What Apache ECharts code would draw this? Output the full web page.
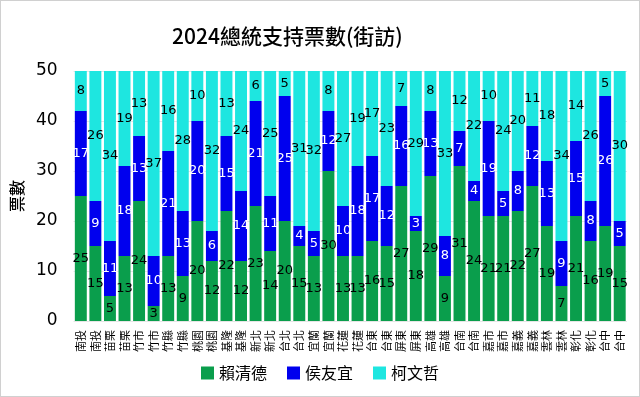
<!DOCTYPE html>
<html>
<head>
<meta charset="utf-8">
<script src="https://cdn.jsdelivr.net/npm/echarts@6/dist/echarts.min.js"></script>
<style>
  html, body { margin: 0; padding: 0; background: #fff; }
  #main { width: 638px; height: 395px; border: 1px solid #d0d0d0; }
</style>
</head>
<body>
<div id="main"></div>
<script>
// 各地區(兩次街訪)
var categories = ['南投', '南投', '苗栗', '苗栗', '竹市', '竹市', '竹縣', '竹縣', '桃園', '桃園',
  '基隆', '基隆', '新北', '新北', '台北', '台北', '宜蘭', '宜蘭', '花蓮', '花蓮',
  '台東', '台東', '屏東', '屏東', '高雄', '高雄', '台南', '台南', '嘉市', '嘉市',
  '嘉義', '嘉義', '雲林', '雲林', '彰化', '彰化', '台中', '台中'];
var lai = [25, 15, 5, 13, 24, 3, 13, 9, 20, 12, 22, 12, 23, 14, 20, 15, 13, 30, 13, 13,
  16, 15, 27, 18, 29, 9, 31, 24, 21, 21, 22, 27, 19, 7, 21, 16, 19, 15];
var hou = [17, 9, 11, 18, 13, 10, 21, 13, 20, 6, 15, 14, 21, 11, 25, 4, 5, 12, 10, 18,
  17, 12, 16, 3, 13, 8, 7, 4, 19, 5, 8, 12, 13, 9, 15, 8, 26, 5];
var ko = [8, 26, 34, 19, 13, 37, 16, 28, 10, 32, 13, 24, 6, 25, 5, 31, 32, 8, 27, 19,
  17, 23, 7, 29, 8, 33, 12, 22, 10, 24, 20, 11, 18, 34, 14, 26, 5, 30];

var chart = echarts.init(document.getElementById('main'));

function seg(name, data, color, textColor) {
  return {
    name: name,
    type: 'bar',
    stack: 'total',
    data: data,
    barCategoryGap: '18%',
    itemStyle: { color: color },
    label: {
      show: true,
      position: 'inside',
      color: textColor,
      fontSize: 13,
      fontFamily: 'DejaVu Sans'
    }
  };
}

var option = {
  textStyle: { fontFamily: 'Noto Sans CJK TC' },
  title: {
    text: '2024總統支持票數(街訪)',
    left: 166,
    top: 20,
    textStyle: { fontSize: 21, fontWeight: 500, color: '#000', fontFamily: 'Noto Sans CJK TC' }
  },
  legend: {
    bottom: 10,
    left: 'center',
    itemWidth: 13,
    itemHeight: 13,
    itemGap: 20,
    icon: 'rect',
    textStyle: { fontSize: 16, color: '#000' },
    data: ['賴清德', '侯友宜', '柯文哲']
  },
  grid: { left: 70, right: 12, top: 70, bottom: 75 },
  xAxis: {
    type: 'category',
    data: categories,
    axisTick: { show: false },
    axisLine: { show: false },
    axisLabel: { rotate: 90, fontSize: 11, color: '#000', interval: 0, margin: 9 }
  },
  yAxis: {
    type: 'value',
    min: 0,
    max: 50,
    interval: 10,
    name: '票數',
    nameLocation: 'middle',
    nameGap: 46,
    nameTextStyle: { fontSize: 16, color: '#000', fontWeight: 500 },
    axisLabel: { fontSize: 17, color: '#000', fontFamily: 'DejaVu Sans', margin: 16 },
    splitLine: { lineStyle: { color: '#e6e6e6' } }
  },
  series: [
    seg('賴清德', lai, '#0a9e4c', '#000'),
    seg('侯友宜', hou, '#0000ee', '#fff'),
    seg('柯文哲', ko, '#1ee6e0', '#000')
  ]
};
chart.setOption(option);
</script>
</body>
</html>
